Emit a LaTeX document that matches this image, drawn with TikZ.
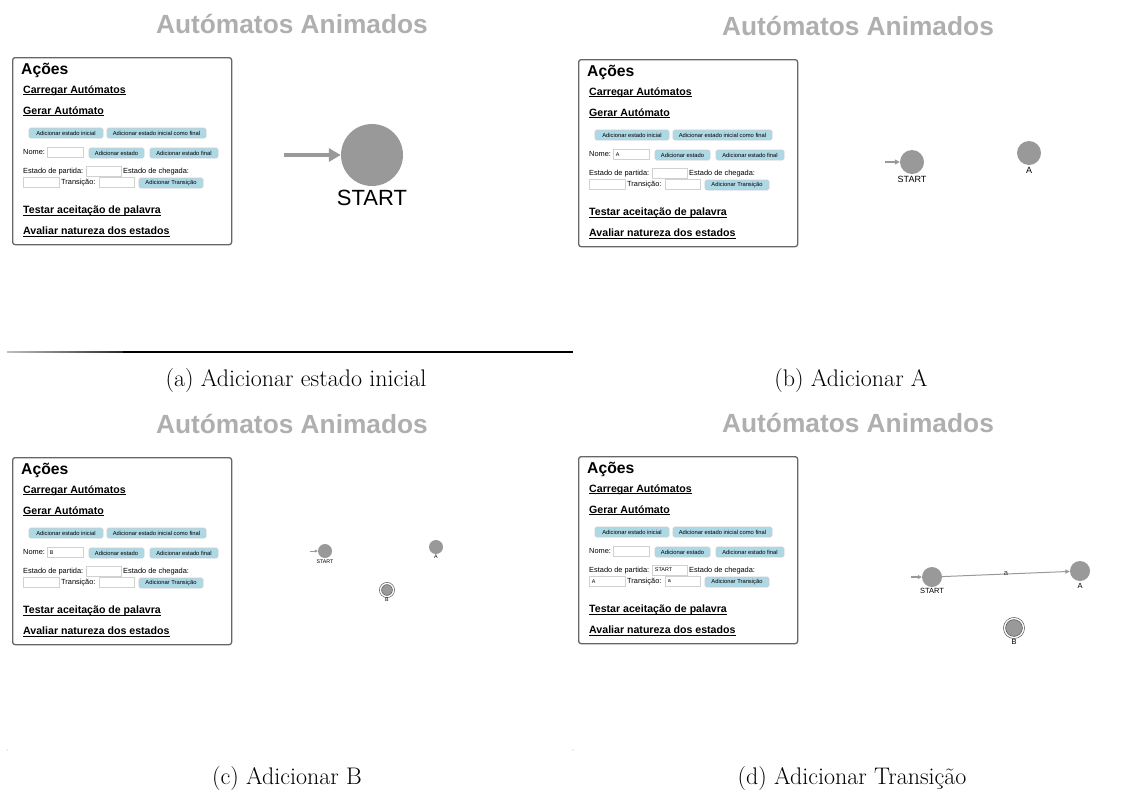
\documentclass[tikz,border=0pt]{standalone}
\usepackage{fontspec}
\setsansfont{Liberation Sans}
\usetikzlibrary{arrows.meta}

\definecolor{titlegray}{HTML}{AFAFAF}
\definecolor{btnblue}{HTML}{ADD8E6}
\definecolor{stategray}{HTML}{999999}
\definecolor{boxgray}{HTML}{666666}

\newcommand\fsz[1]{\fontsize{#1}{#1}\selectfont}

\tikzset{
  uititle/.style={font=\sffamily\bfseries\fsz{26.3}, text=titlegray, inner sep=0},
  panelbox/.style={rectangle, draw=boxgray, line width=1.3pt, rounded corners=2.5pt,
                   anchor=north west, minimum width=219pt, minimum height=187pt, inner sep=0},
  uihead/.style={font=\sffamily\bfseries\fsz{15.7}, anchor=base west, inner sep=0},
  uilink/.style={font=\sffamily\bfseries\fsz{10.6}, anchor=base west, inner sep=0},
  uline/.style={line width=0.8pt},
  uilabel/.style={font=\sffamily\fsz{7.4}, anchor=base west, inner sep=0},
  uibtn/.style={rectangle, rounded corners=1.5pt, fill=btnblue, draw=black!20, line width=0.6pt,
                minimum height=10pt, inner sep=0, font=\sffamily\fsz{5.8}},
  uifield/.style={rectangle, fill=white, draw=black!18, line width=0.6pt,
                  minimum height=10pt, inner sep=0},
  uivalue/.style={font=\sffamily\fsz{5.4}, anchor=west, inner sep=0},
  subcap/.style={font=\fsz{24}, inner sep=0},
  stnode/.style={circle, fill=stategray, inner sep=0, minimum size=#1},
  finalnode/.style={circle, fill=stategray, inner sep=0, minimum size=#1,
                    draw=black!70, line width=0.6pt, double=white, double distance=1.4pt},
  stlabel/.style={font=\sffamily\fsz{#1}, inner sep=0},
  initarrow/.style={draw=stategray, line width=#1},
}

% The "Ações" control panel of the web page.
% #1 name prefix, #2/#3 top-left corner, #4 Nome, #5 Estado de partida,
% #6 Estado de chegada, #7 Transição
\newcommand\uipanel[7]{%
\begin{scope}[shift={(#2,#3)}]
  \node[uititle] (#1title) at (280,-33.5) {Autómatos Animados};
  \node[panelbox] (#1box) at (0,0) {};
  \node[uihead] (#1acoes) at (9,17) {Ações};
  \node[uilink] (#1carregar) at (11,36) {Carregar Autómatos};
  \node[uilink] (#1gerar) at (11,57) {Gerar Autómato};
  \node[uilink] (#1testar) at (11,156.4) {Testar aceitação de palavra};
  \node[uilink] (#1avaliar) at (11,177.4) {Avaliar natureza dos estados};
  \foreach \n in {carregar,gerar,testar,avaliar}
    \draw[uline] ([yshift=-1.7pt]#1\n.base west) -- ([yshift=-1.7pt]#1\n.base east);
  % buttons
  \node[uibtn, minimum width=74pt] (#1bini) at (54,76) {Adicionar estado inicial};
  \node[uibtn, minimum width=99pt] (#1binifin) at (144.5,76) {Adicionar estado inicial como final};
  \node[uibtn, minimum width=55pt] (#1best) at (104.5,96) {Adicionar estado};
  \node[uibtn, minimum width=68pt] (#1bfin) at (172,96) {Adicionar estado final};
  \node[uibtn, minimum width=64pt] (#1btr) at (159,126) {Adicionar Transição};
  % labels
  \node[uilabel] (#1lnome) at (11,97.7) {Nome:};
  \node[uilabel] (#1lpart) at (11,116.6) {Estado de partida:};
  \node[uilabel] (#1lcheg) at (111,116.6) {Estado de chegada:};
  \node[uilabel] (#1ltr) at (49,127.8) {Transição:};
  % input fields
  \node[uifield, minimum width=36pt] (#1fnome) at (53,95.5) {};
  \node[uifield, minimum width=35pt] (#1fpart) at (91.5,114) {};
  \node[uifield, minimum width=36pt] (#1fcheg) at (29,125.5) {};
  \node[uifield, minimum width=35pt] (#1ftr) at (104.5,125.5) {};
  \node[uivalue] (#1vnome) at ([xshift=3pt]#1fnome.west) {#4};
  \node[uivalue] (#1vpart) at ([xshift=3pt]#1fpart.west) {#5};
  \node[uivalue] (#1vcheg) at ([xshift=3pt]#1fcheg.west) {#6};
  \node[uivalue] (#1vtr) at ([xshift=3pt]#1ftr.west) {#7};
\end{scope}}

\begin{document}
\begin{tikzpicture}[x=1pt, y=-1pt]
\useasboundingbox (0,0) rectangle (1134,796);

% ---------- (a) ----------
\uipanel{pa}{12}{57}{}{}{}{}
\node[stnode=62pt] (aS) at (372,155) {};
\node[stlabel=22] (aSl) at (372,198) {START};
\coordinate (aI) at (284,155);
\draw[initarrow=4pt, -{Triangle[length=12pt,width=13pt]}] (aI) -- (aS);
\shade[left color=black!25, right color=black!85] (7,351.4) rectangle (123,352.6);
\draw[line width=1.2pt] (123,352) -- (573,352);
\node[subcap] (capa) at (296,381) {(a) Adicionar estado inicial};

% ---------- (b) ----------
\uipanel{pb}{578}{59}{A}{}{}{}
\node[stnode=24pt] (bS) at (912,162) {};
\node[stlabel=9] (bSl) at (912,179) {START};
\node[stnode=24pt] (bA) at (1029,153) {};
\node[stlabel=9] (bAl) at (1029,170) {A};
\coordinate (bI) at (885,162);
\draw[initarrow=1.4pt, -{Triangle[length=5pt,width=5pt]}] (bI) -- (bS);
\node[subcap] (capb) at (851,381) {(b) Adicionar A};

% ---------- (c) ----------
\uipanel{pc}{12}{457}{B}{}{}{}
\node[stnode=14pt] (cS) at (325,551) {};
\node[stlabel=5.3] (cSl) at (325,562) {START};
\node[stnode=14pt] (cA) at (436,547) {};
\node[stlabel=5.3] (cAl) at (436,557) {A};
\coordinate (cI) at (310,551);
\draw[initarrow=0.7pt, -{Triangle[length=3pt,width=3pt]}] (cI) -- (cS);
\node[finalnode=13pt] (cB) at (387,590) {};
\node[stlabel=5.3] (cBl) at (387,600) {B};
\fill[black!30] (7,750) circle (0.6);
\fill[black!30] (573,750) circle (0.6);
\node[subcap] (capc) at (287,778) {(c) Adicionar B};

% ---------- (d) ----------
\uipanel{pd}{578}{456}{}{START}{A}{a}
\node[stnode=20pt] (dS) at (932,577) {};
\node[stlabel=7.5] (dSl) at (932,591) {START};
\node[stnode=20pt] (dA) at (1080,571) {};
\node[stlabel=7.5] (dAl) at (1080,586) {A};
\coordinate (dI) at (911,577);
\draw[initarrow=1.1pt, -{Triangle[length=4pt,width=4pt]}] (dI) -- (dS);
\draw[initarrow=1pt, -{Triangle[length=4.5pt,width=4pt]}] (dS) -- node[stlabel=7.5, text=black!80] (dTl) {a} (dA);
\node[finalnode=19pt] (dB) at (1014,628) {};
\node[stlabel=7.5] (dBl) at (1014,642) {B};
\node[subcap] (capd) at (852,778) {(d) Adicionar Transição};
\end{tikzpicture}
\end{document}
